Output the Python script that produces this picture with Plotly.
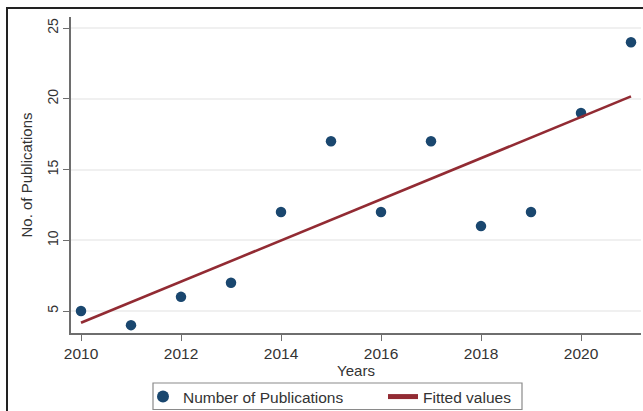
import numpy as np
import plotly.graph_objects as go

# Publications per year
years = [2010, 2011, 2012, 2013, 2014, 2015, 2016, 2017, 2018, 2019, 2020, 2021]
publications = [5, 4, 6, 7, 12, 17, 12, 17, 11, 12, 19, 24]

x_ticks = [2010, 2012, 2014, 2016, 2018, 2020]
y_ticks = [5, 10, 15, 20, 25]

# Ordinary least-squares line through the yearly counts
slope, intercept = np.polyfit(years, publications, 1)
fitted = [slope * y + intercept for y in years]

NAVY = "#1a476f"
MAROON = "#922b33"
FONT = "Liberation Sans, Arial, sans-serif"
AXIS = "#6e6e6e"
TXT = "#333333"

fig = go.Figure()
fig.add_trace(go.Scatter(
    x=years, y=publications, mode="markers", name="Number of Publications",
    marker=dict(color=NAVY, size=10.5, line=dict(width=0)),
    legend="legend",
))
fig.add_trace(go.Scatter(
    x=years, y=fitted, mode="lines", name="Fitted values",
    line=dict(color=MAROON, width=2.6),
    legend="legend2",
))

W, H = 643, 411
L, R, T, B = 71, 2, 17, 78
pw, ph = W - L - R, H - T - B

def px_x(p):
    return (p - L) / pw

def px_y(p):
    return (H - B - p) / ph

legend_style = dict(
    orientation="h", yanchor="middle", y=px_y(397),
    bgcolor="rgba(0,0,0,0)", borderwidth=0,
    font=dict(size=15.5, color=TXT),
    itemsizing="constant",
)

fig.update_layout(
    width=W, height=H, autosize=False,
    margin=dict(l=L, r=R, t=T, b=B, pad=0, autoexpand=False),
    paper_bgcolor="white", plot_bgcolor="white",
    font=dict(family=FONT, size=15, color=TXT),
    xaxis=dict(
        range=[2009.8, 2021.2], tickmode="array", tickvals=x_ticks,
        showgrid=False, zeroline=False, automargin=False,
        showline=True, linecolor=AXIS, linewidth=1.5,
        ticks="outside", ticklen=6, tickcolor=AXIS, tickwidth=1.2,
        ticklabelstandoff=0,
        tickfont=dict(size=15.5, color=TXT),
        title=dict(text="Years", standoff=0, font=dict(size=15, color=TXT)),
    ),
    yaxis=dict(
        range=[3.445, 25.78], tickmode="array", tickvals=y_ticks,
        tickangle=-90, automargin=False,
        showgrid=True, gridcolor="#f0f0f0", gridwidth=1.5,
        zeroline=False,
        showline=True, linecolor=AXIS, linewidth=1.5,
        ticks="outside", ticklen=6, tickcolor=AXIS, tickwidth=1.2,
        tickfont=dict(size=14, color=TXT),
        title=dict(text="No. of Publications", standoff=8, font=dict(size=15, color=TXT)),
    ),
    legend=dict(legend_style, xanchor="left", x=px_x(143)),
    legend2=dict(legend_style, xanchor="left", x=px_x(383)),
    showlegend=True,
    shapes=[
        # legend frame
        dict(type="rect", xref="paper", yref="paper",
             x0=px_x(153), x1=px_x(522), y0=px_y(383), y1=px_y(409.5),
             line=dict(color="#8a8a8a", width=1.2), fillcolor="rgba(0,0,0,0)"),
        # outer frame
        dict(type="line", xref="paper", yref="paper",
             x0=px_x(6), x1=px_x(W + 5), y0=px_y(8), y1=px_y(8),
             line=dict(color="#222222", width=2)),
        dict(type="line", xref="paper", yref="paper",
             x0=px_x(7), x1=px_x(7), y0=px_y(8), y1=px_y(H + 5),
             line=dict(color="#222222", width=2)),
    ],
)

fig.write_html("out.html")
